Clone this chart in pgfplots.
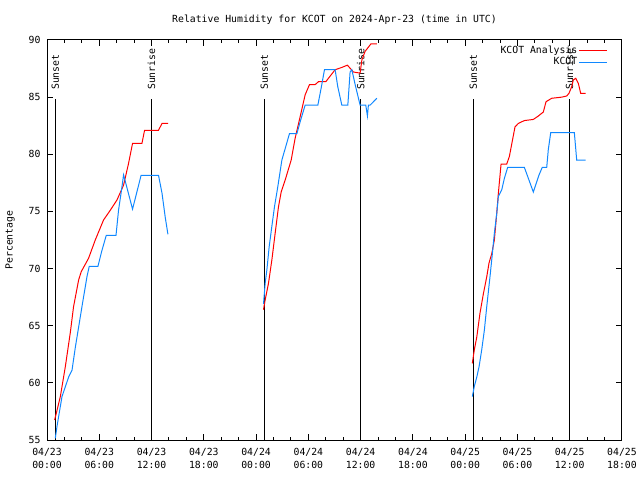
\documentclass[border=0pt]{standalone}
\usepackage{pgfplots}
\pgfplotsset{compat=1.18}
\usepackage{fontspec}
\setmainfont{DejaVu Sans Mono}
\definecolor{obsblue}{RGB}{16,136,255}
\definecolor{anared}{RGB}{255,0,0}
\begin{document}
\fontsize{9.8pt}{13pt}\selectfont
\begin{tikzpicture}
\path[use as bounding box] (0,0) rectangle (640pt,480pt);
\begin{axis}[
  at={(47pt,40pt)}, anchor=south west,
  scale only axis, width=575pt, height=400pt,
  xmin=0, xmax=66, ymin=55, ymax=90,
  xtick={0,6,...,66}, minor x tick num=2,
  ytick={55,60,...,90},
  xticklabels={{04/23\\00:00},{04/23\\06:00},{04/23\\12:00},{04/23\\18:00},{04/24\\00:00},{04/24\\06:00},{04/24\\12:00},{04/24\\18:00},{04/25\\00:00},{04/25\\06:00},{04/25\\12:00},{04/25\\18:00}},
  xticklabel style={align=center, font=\fontsize{9.8pt}{13pt}\selectfont, yshift=-5pt},
  yticklabel style={font=\fontsize{9.8pt}{13pt}\selectfont, xshift=-3pt},
  /pgf/number format/assume math mode=true,
  major tick length=6pt, minor tick length=3pt,
  tick style={black, line width=1pt},
  axis line style={line width=1pt},
  title={Relative Humidity for KCOT on 2024-Apr-23 (time in UTC)},
  title style={at={(0.5,1)}, anchor=base, yshift=11pt},
  ylabel={Percentage},
  ylabel style={at={(axis description cs:-0.0643,0.5)}, anchor=center},
  legend style={at={(1,1)}, anchor=north east, xshift=-11pt, yshift=-2pt, draw=none, fill=none, nodes={inner sep=1.5pt}},
  legend plot pos=right, legend cell align=right,
  legend image code/.code={\draw[#1] (0pt,0pt) -- (28pt,0pt);},
  every axis plot/.append style={line width=1pt},
]
% sunset / sunrise lines
\addplot[black, forget plot] coordinates {(0.95,55) (0.95,84.8)};
\addplot[black, forget plot] coordinates {(12.0,55) (12.0,84.8)};
\addplot[black, forget plot] coordinates {(24.95,55) (24.95,84.8)};
\addplot[black, forget plot] coordinates {(36.0,55) (36.0,84.8)};
\addplot[black, forget plot] coordinates {(48.92,55) (48.92,84.8)};
\addplot[black, forget plot] coordinates {(59.97,55) (59.97,84.8)};
\node[rotate=90, anchor=west, inner sep=0pt, xshift=2pt] at (axis cs:0.95,85.45) {Sunset};
\node[rotate=90, anchor=west, inner sep=0pt, xshift=2pt] at (axis cs:12.0,85.45) {Sunrise};
\node[rotate=90, anchor=west, inner sep=0pt, xshift=2pt] at (axis cs:24.95,85.45) {Sunset};
\node[rotate=90, anchor=west, inner sep=0pt, xshift=2pt] at (axis cs:36.0,85.45) {Sunrise};
\node[rotate=90, anchor=west, inner sep=0pt, xshift=2pt] at (axis cs:48.92,85.45) {Sunset};
\node[rotate=90, anchor=west, inner sep=0pt, xshift=2pt] at (axis cs:59.97,85.45) {Sunrise};
% KCOT Analysis, segment 1
\addplot[anared] table {
0.87 56.75
1.07 57.34
1.53 58.8
2.10 61.4
2.67 64.37
3.05 66.67
3.63 69.0
3.93 69.73
4.77 70.9
5.54 72.5
6.49 74.25
7.26 75.1
8.03 76.0
8.79 77.3
9.36 79.2
9.82 80.96
10.9 80.96
11.2 82.1
12.8 82.1
13.2 82.7
13.9 82.7
};
\addlegendentry{KCOT Analysis}
% KCOT obs, segment 1
\addplot[obsblue] table {
0.95 55.15
1.15 56.2
1.72 58.8
2.48 60.5
2.87 61.1
3.25 63.1
4.02 66.7
4.59 69.3
4.85 70.2
5.85 70.2
6.31 71.6
6.8 72.9
7.92 72.9
8.21 75.1
8.52 76.7
8.79 78.2
9.82 75.2
10.8 78.16
12.8 78.16
13.2 76.6
13.57 74.5
13.88 73.0
};
\addlegendentry{KCOT}
% segment 2
\addplot[anared, forget plot] table {
24.85 66.4
25.04 67.25
25.42 68.7
25.81 70.75
26.19 73.1
26.57 75.4
26.88 76.7
27.34 77.75
28.03 79.5
28.48 81.4
29.06 83.3
29.63 85.2
30.13 86.1
30.78 86.1
31.16 86.35
32.0 86.35
33.07 87.4
33.84 87.6
34.48 87.8
35.17 87.2
35.94 87.1
36.14 88.25
36.51 89.0
37.17 89.65
37.86 89.65
};
\addplot[obsblue, forget plot] table {
24.85 66.9
25.04 68.7
25.24 69.9
25.5 71.9
25.81 73.7
26.11 75.4
26.5 77.2
26.96 79.5
27.34 80.5
27.83 81.8
28.68 81.8
29.06 82.85
29.63 84.3
31.09 84.3
31.47 85.8
31.85 87.4
33.07 87.4
33.38 85.9
33.84 84.3
34.53 84.3
34.79 87.2
34.99 87.4
35.37 86.1
35.94 84.3
36.59 84.3
36.78 83.35
36.89 84.3
37.09 84.3
37.86 84.9
};
% segment 3
\addplot[anared, forget plot] table {
48.82 61.7
49.05 62.9
49.33 64.0
49.7 66.1
50.09 67.8
50.48 69.3
50.74 70.5
51.05 71.3
51.35 72.5
51.62 74.8
51.81 76.6
52.12 79.15
52.77 79.15
53.07 79.8
53.72 82.4
54.1 82.7
54.79 82.95
55.82 83.05
56.4 83.35
56.97 83.7
57.28 84.6
57.93 84.9
59.08 85.0
59.65 85.1
59.91 85.33
60.22 85.9
60.41 86.5
60.69 86.65
60.99 86.2
61.26 85.33
61.83 85.33
};
\addplot[obsblue, forget plot] table {
48.82 58.8
49.05 59.7
49.33 60.5
49.59 61.4
49.9 62.9
50.2 64.6
50.48 66.7
50.85 69.3
51.12 71.3
51.35 73.1
51.62 74.8
51.81 76.3
52.2 76.9
52.5 77.9
52.88 78.86
54.79 78.86
55.25 77.9
55.82 76.7
56.48 78.2
56.85 78.86
57.36 78.86
57.54 80.4
57.82 81.9
60.53 81.9
60.8 79.5
61.83 79.5
};
\end{axis}
\end{tikzpicture}
\end{document}
